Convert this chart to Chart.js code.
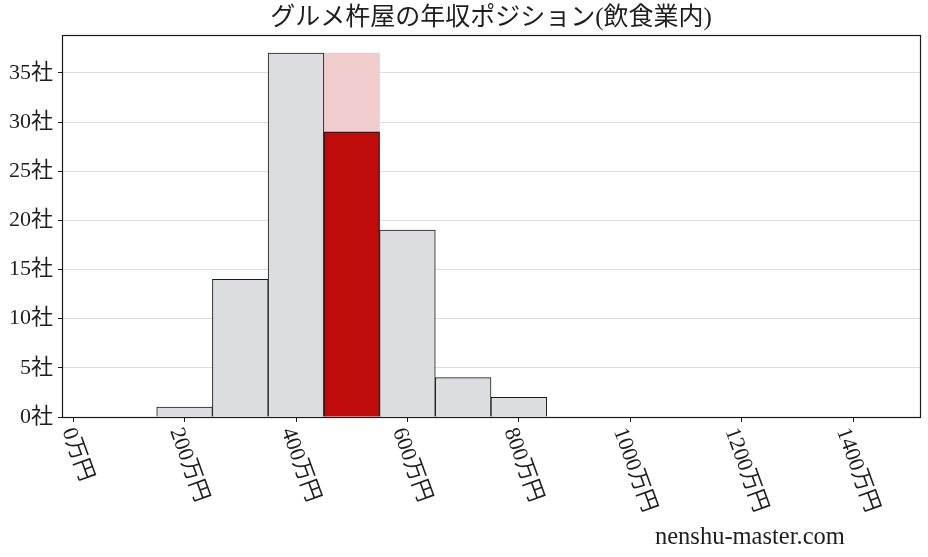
<!DOCTYPE html>
<html>
<head>
<meta charset="utf-8">
<script src="https://cdn.jsdelivr.net/npm/chart.js@4/dist/chart.umd.min.js"></script>
<style>
  html, body { margin: 0; padding: 0; background: #ffffff; }
  #wrap { width: 928px; height: 557px; }
</style>
</head>
<body>
<div id="wrap"><canvas id="c" width="928" height="557"></canvas></div>
<script>
// ---- data ----
const chartTitle = 'グルメ杵屋の年収ポジション(飲食業内)';
const binCenters = [200, 300, 400, 500, 600, 700, 800];      // 万円 (bins of width 100)
const companyCounts = [1, 14, 37, 29, 19, 4, 2];              // 社
const highlightCenter = 500;                                   // the company's bin
const highlightBackdrop = 37;                                  // pale bar behind the highlight
const xTickValues = [0, 200, 400, 600, 800, 1000, 1200, 1400];
const xTickLabels = ['0万円', '200万円', '400万円', '600万円', '800万円', '1000万円', '1200万円', '1400万円'];
const yTickValues = [0, 5, 10, 15, 20, 25, 30, 35];
const yTickSuffix = '社';
const watermark = 'nenshu-master.com';

// ---- styles ----
const FONT = '"Liberation Serif", "Noto Sans CJK JP", serif';
const TEXT = '#1e1e1e';
const EDGE = '#1a1a1a';
const GRAY = '#dcdddf';
const RED = '#c00b0b';
const PINK = '#f0cccc';

const grayPts = [], redPts = [];
binCenters.forEach((x, i) => {
  (x === highlightCenter ? redPts : grayPts).push({ x: x, y: companyCounts[i] });
});
const pinkPts = [{ x: highlightCenter, y: highlightBackdrop }];

const framePlugin = {
  id: 'frameAndLabels',
  afterDatasetsDraw(chart) {
    const ctx = chart.ctx;
    const a = chart.chartArea;
    ctx.save();
    ctx.strokeStyle = EDGE;
    ctx.lineWidth = 1.2;
    const l = Math.floor(a.left) + 0.5, t = Math.floor(a.top) + 0.5;
    const r = Math.floor(a.right) + 0.5, b = Math.floor(a.bottom) + 0.5;
    ctx.strokeRect(l, t, r - l, b - t);
    ctx.restore();
  },
  afterDraw(chart) {
    const ctx = chart.ctx;
    const xs = chart.scales.x;
    const a = chart.chartArea;
    ctx.save();
    const fs = 22;
    ctx.font = fs + 'px ' + FONT;
    ctx.fillStyle = TEXT;
    const th = 70 * Math.PI / 180;
    xTickValues.forEach((v, i) => {
      const label = xTickLabels[i];
      const w = ctx.measureText(label).width;
      const bh = w * Math.sin(th) + fs * Math.cos(th);
      const cx = xs.getPixelForValue(v) + 4;
      const cy = a.bottom + 8 + bh / 2;
      ctx.save();
      ctx.translate(cx, cy);
      ctx.rotate(th);
      ctx.textAlign = 'center';
      ctx.textBaseline = 'middle';
      ctx.fillText(label, 0, 0);
      ctx.restore();
    });
    ctx.font = '24.5px ' + FONT;
    ctx.textAlign = 'left';
    ctx.textBaseline = 'alphabetic';
    ctx.fillText(watermark, 655, 544);
    ctx.restore();
  }
};

new Chart(document.getElementById('c'), {
  type: 'bar',
  data: {
    datasets: [
      { data: redPts, backgroundColor: RED, borderColor: EDGE, borderWidth: 1.2, grouped: false,
        barPercentage: 1, categoryPercentage: 1 },
      { data: grayPts, backgroundColor: GRAY, borderColor: EDGE, borderWidth: 1, grouped: false,
        barPercentage: 1, categoryPercentage: 1 },
      { data: pinkPts, backgroundColor: PINK, borderWidth: 0, grouped: false,
        barPercentage: 1, categoryPercentage: 1 }
    ]
  },
  options: {
    responsive: false,
    animation: false,
    devicePixelRatio: 1,
    layout: { padding: { left: 0, right: 8, top: 0, bottom: 135 } },
    plugins: {
      legend: { display: false },
      tooltip: { enabled: false },
      title: {
        display: true, text: chartTitle, fullSize: false,
        color: TEXT, font: { family: FONT, size: 25, weight: 'normal', lineHeight: 1.2 },
        padding: { top: 3, bottom: 2 }
      }
    },
    scales: {
      x: {
        type: 'linear', min: -20, max: 1520, offset: false,
        afterBuildTicks: s => { s.ticks = xTickValues.map(v => ({ value: v })); },
        ticks: { display: false },
        grid: { offset: false, drawOnChartArea: false, drawTicks: true, tickLength: 5, tickColor: EDGE, tickWidth: 1 },
        border: { display: false }
      },
      y: {
        min: 0, max: 38.85,
        afterBuildTicks: s => { s.ticks = yTickValues.map(v => ({ value: v })); },
        afterFit: s => { s.width = 62; },
        ticks: {
          callback: v => v + yTickSuffix,
          color: TEXT, font: { family: FONT, size: 22 }, padding: 5
        },
        grid: { color: '#dddddd', lineWidth: 1, tickLength: 4, tickColor: EDGE, tickWidth: 1 },
        border: { display: false }
      }
    }
  },
  plugins: [framePlugin]
});
</script>
</body>
</html>
